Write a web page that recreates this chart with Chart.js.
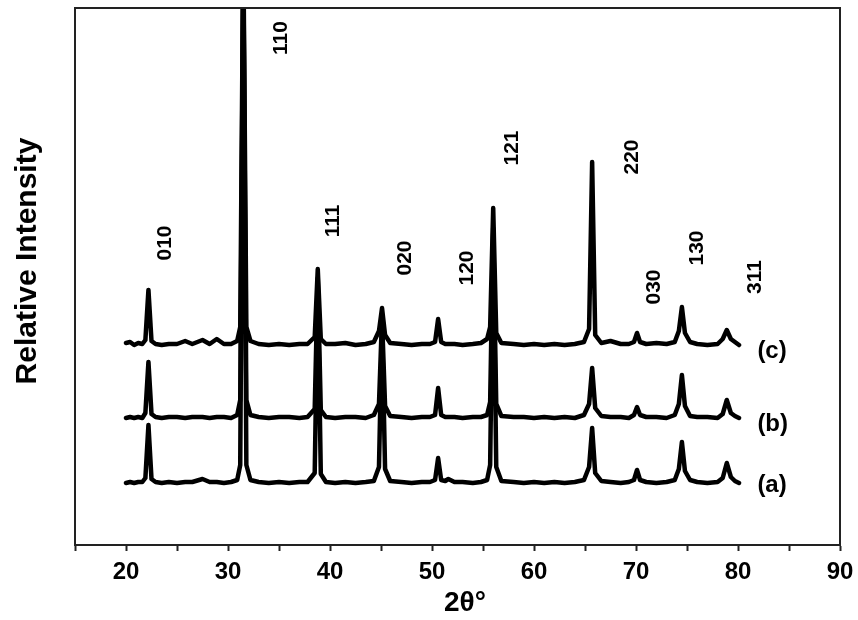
<!DOCTYPE html>
<html>
<head>
<meta charset="utf-8">
<script src="https://cdn.jsdelivr.net/npm/chart.js@4/dist/chart.umd.min.js"></script>
<style>
  html, body { margin: 0; padding: 0; background: #fff; }
  #wrap { width: 858px; height: 620px; position: relative; }
</style>
</head>
<body>
<div id="wrap"><canvas id="c"></canvas></div>
<script>
// ---- data (2θ grid shared by the three patterns) ----
const twoTheta = [
  20.0, 20.4, 20.8, 21.2, 21.6, 21.9, 22.2, 22.5, 22.9, 23.5,
  24.2, 25.0, 25.8, 26.5, 27.5, 28.2, 28.9, 29.6, 30.3, 30.9,
  31.2, 31.5, 31.8, 32.2, 33.0, 34.0, 35.0, 36.0, 37.0, 37.8,
  38.5, 38.8, 39.1, 39.6, 40.5, 41.5, 42.5, 43.5, 44.3, 44.8,
  45.1, 45.4, 45.9, 47.0, 48.0, 49.0, 49.8, 50.3, 50.6, 50.9,
  51.3, 51.6, 52.2, 53.0, 54.0, 54.8, 55.4, 55.7, 56.0, 56.3,
  56.8, 58.0, 59.0, 60.0, 61.0, 62.0, 63.0, 64.0, 64.9, 65.4,
  65.7, 66.0, 66.6, 67.5, 68.5, 69.3, 69.8, 70.1, 70.4, 71.0,
  72.0, 73.0, 73.8, 74.2, 74.5, 74.8, 75.3, 76.0, 77.0, 78.0,
  78.5, 78.9, 79.3, 79.7, 80.1
];
// intensities above each pattern's own baseline (relative units)
const intensityA = [
  0, 1, 0, 1, 1, 5, 58, 4, 1, 0,
  1, 0, 1, 1, 4, 1, 1, 0, 1, 3,
  18, 520, 18, 3, 1, 0, 1, 0, 1, 1,
  10, 200, 9, 1, 0, 1, 0, 1, 2, 16,
  160, 14, 2, 1, 0, 1, 1, 3, 25, 3,
  2, 4, 1, 1, 0, 1, 3, 18, 250, 16,
  2, 1, 0, 1, 0, 1, 0, 1, 3, 16,
  55, 10, 2, 1, 0, 1, 3, 13, 3, 1,
  0, 1, 3, 14, 41, 12, 3, 1, 0, 1,
  5, 20, 6, 2, 0
];
const intensityB = [
  0, 1, 0, 1, 0, 5, 56, 4, 1, 0,
  1, 1, 0, 1, 1, 0, 1, 1, 0, 3,
  18, 460, 18, 3, 1, 0, 1, 1, 0, 1,
  9, 140, 8, 1, 0, 1, 1, 0, 3, 14,
  100, 12, 2, 1, 0, 1, 1, 3, 30, 3,
  1, 1, 1, 0, 1, 1, 3, 16, 190, 14,
  2, 1, 1, 0, 1, 0, 1, 0, 3, 14,
  50, 10, 2, 1, 1, 0, 3, 11, 3, 1,
  1, 0, 3, 14, 43, 12, 2, 1, 1, 0,
  4, 18, 5, 2, 0
];
const intensityC = [
  2, 3, 0, 2, 1, 5, 55, 4, 1, 0,
  1, 1, 4, 1, 5, 1, 6, 1, 1, 4,
  18, 400, 18, 4, 1, 0, 1, 0, 1, 1,
  8, 76, 6, 1, 1, 2, 0, 1, 3, 14,
  37, 10, 2, 1, 0, 1, 1, 3, 26, 3,
  1, 1, 1, 0, 1, 2, 6, 18, 137, 12,
  2, 1, 0, 1, 0, 1, 0, 1, 3, 16,
  183, 10, 2, 4, 1, 1, 3, 12, 3, 1,
  2, 1, 3, 14, 38, 12, 3, 1, 0, 1,
  6, 15, 6, 3, 0
];
const seriesNames = ['(a)', '(b)', '(c)'];
const seriesOffsets = [62, 127, 200];      // vertical stacking offsets
const seriesLabelY = [60, 121, 194];        // where the (a)/(b)/(c) tags sit
const seriesLabelX = 81.9;

// Miller-index labels and their positions (2θ, relative height)
const peakLabels = ['010', '110', '111', '020', '120', '121', '220', '030', '130', '311'];
const peakLabelX = [23.8, 35.2, 40.3, 47.35, 53.5, 57.85, 69.6, 71.75, 76.0, 81.7];
const peakLabelY = [302, 507, 324, 287, 277, 397, 388, 258, 297, 268];

const xTickValues = [20, 30, 40, 50, 60, 70, 80, 90];
const xTitle = '2θ°';
const yTitle = 'Relative Intensity';

// ---- build datasets ----
const intensities = [intensityA, intensityB, intensityC];
const datasets = intensities.map((arr, k) => ({
  label: seriesNames[k],
  data: twoTheta.map((x, i) => ({ x: x, y: arr[i] + seriesOffsets[k] })),
  borderColor: '#000',
  borderWidth: 4.5,
  borderJoinStyle: 'round',
  borderCapStyle: 'round',
  pointRadius: 0,
  tension: 0,
  fill: false
}));

const FONT = "'Liberation Sans', Arial, Helvetica, sans-serif";

const framePlugin = {
  id: 'frame',
  afterDatasetsDraw(chart) {
    const { ctx, chartArea: a } = chart;
    ctx.save();
    ctx.strokeStyle = '#222';
    ctx.lineWidth = 2;
    ctx.beginPath();
    ctx.moveTo(a.left, a.top);
    ctx.lineTo(a.right, a.top);
    ctx.lineTo(a.right, a.bottom);
    ctx.stroke();
    ctx.restore();
  }
};

const textPlugin = {
  id: 'texts',
  afterDraw(chart) {
    const { ctx } = chart;
    const xs = chart.scales.x, ys = chart.scales.y;
    ctx.save();
    ctx.fillStyle = '#000';
    // peak labels, rotated
    ctx.font = 'bold 21px ' + FONT;
    ctx.textAlign = 'center';
    ctx.textBaseline = 'middle';
    peakLabels.forEach((t, i) => {
      const px = xs.getPixelForValue(peakLabelX[i]);
      const py = ys.getPixelForValue(peakLabelY[i]);
      ctx.save();
      ctx.translate(px, py);
      ctx.rotate(-Math.PI / 2);
      ctx.fillText(t, 0, 0);
      ctx.restore();
    });
    // series tags
    ctx.font = 'bold 24px ' + FONT;
    ctx.textAlign = 'left';
    seriesNames.forEach((t, i) => {
      ctx.fillText(t, xs.getPixelForValue(seriesLabelX), ys.getPixelForValue(seriesLabelY[i]));
    });
    // axis titles
    ctx.font = 'bold 28px ' + FONT;
    ctx.textAlign = 'center';
    ctx.fillText(xTitle, 465, 603);
    ctx.save();
    ctx.translate(28, 261);
    ctx.rotate(-Math.PI / 2);
    ctx.font = 'bold 30px ' + FONT;
    ctx.fillText(yTitle, 0, 0);
    ctx.restore();
    ctx.restore();
  }
};

new Chart(document.getElementById('c'), {
  type: 'line',
  data: { datasets },
  options: {
    responsive: true,
    maintainAspectRatio: false,
    animation: false,
    layout: { padding: { top: 8, right: 18, left: 0, bottom: 0 } },
    plugins: { legend: { display: false }, tooltip: { enabled: false } },
    scales: {
      x: {
        type: 'linear',
        min: 15, max: 90,
        afterBuildTicks(s) {
          const t = [];
          for (let v = 15; v <= 90; v += 5) t.push({ value: v });
          s.ticks = t;
        },
        ticks: {
          autoSkip: false, maxRotation: 0, padding: 7,
          color: '#000',
          font: { family: FONT, size: 24, weight: 'bold' },
          callback: v => (xTickValues.includes(v) ? String(v) : '')
        },
        grid: { drawOnChartArea: false, drawTicks: true, tickLength: 6, tickWidth: 2, tickColor: '#222' },
        border: { display: true, color: '#222', width: 2 },
        afterFit(s) { s.height = 75; s.paddingLeft = 0; s.paddingRight = 0; }
      },
      y: {
        type: 'linear',
        min: 0, max: 537,
        ticks: { display: false },
        grid: { display: true, drawOnChartArea: false, drawTicks: false },
        border: { display: true, color: '#222', width: 2 },
        afterFit(s) { s.width = 75; s.paddingTop = 0; s.paddingBottom = 0; }
      }
    }
  },
  plugins: [framePlugin, textPlugin]
});
</script>
</body>
</html>
